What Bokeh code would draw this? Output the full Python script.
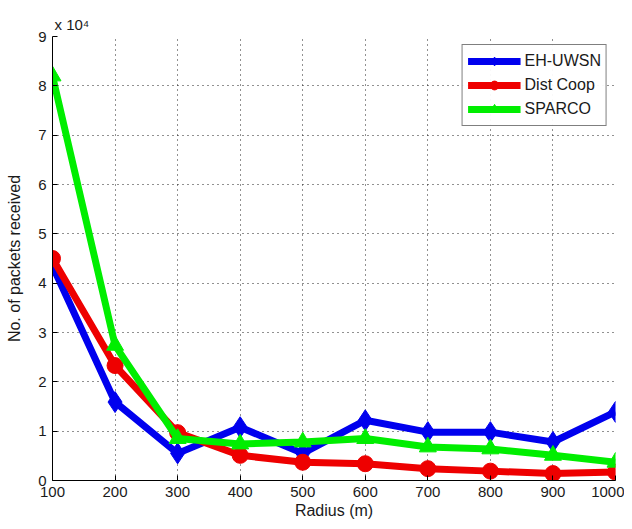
from bokeh.plotting import figure
from bokeh.models import Range1d, Title, Legend, LegendItem, FixedTicker
from bokeh.embed import file_html
from bokeh.resources import INLINE

radius = [100, 200, 300, 400, 500, 600, 700, 800, 900, 1000]
eh_uwsn = [4.35, 1.59, 0.55, 1.08, 0.55, 1.22, 0.98, 0.98, 0.78, 1.39]
dist_coop = [4.50, 2.33, 0.97, 0.51, 0.37, 0.34, 0.24, 0.19, 0.14, 0.17]
sparco = [8.20, 2.74, 0.85, 0.74, 0.78, 0.85, 0.68, 0.64, 0.51, 0.37]
y_ticks = list(range(0, 10))
x_ticks = radius

FONT = "Liberation Sans"
TXT = "#1a1a1a"

p = figure(frame_width=563, frame_height=444, output_backend="svg", toolbar_location=None,
           x_range=Range1d(100, 1000), y_range=Range1d(0, 9),
           min_border_left=52, min_border_right=9, min_border_top=36, min_border_bottom=41)
p.outline_line_color = None
p.background_fill_color = "white"
p.border_fill_color = "white"

for ax in (p.xaxis[0], p.yaxis[0]):
    ax.major_tick_in = 5
    ax.major_tick_out = 0
    ax.minor_tick_line_color = None
    ax.axis_line_color = "black"
    ax.major_tick_line_color = "black"
    ax.major_label_text_font = FONT
    ax.major_label_text_font_size = "15px"
    ax.major_label_text_color = TXT
    ax.axis_label_text_font = FONT
    ax.axis_label_text_font_size = "16px"
    ax.axis_label_text_font_style = "normal"
    ax.axis_label_text_color = TXT

p.xaxis.ticker = FixedTicker(ticks=x_ticks)
p.yaxis.ticker = FixedTicker(ticks=y_ticks)
p.xaxis.axis_label = "Radius (m)"
p.yaxis.axis_label = "No. of packets received"
p.xaxis.major_label_standoff = 6
p.yaxis.major_label_standoff = 6
p.xaxis.axis_label_standoff = 2
p.yaxis.axis_label_standoff = 12

p.grid.grid_line_color = "#222222"
p.grid.grid_line_dash = "1 4"
p.grid.grid_line_width = 1

blue, red, green = "#0000ee", "#ee0000", "#00ee00"
lw = 7

r_b = p.line(radius, eh_uwsn, line_color=blue, line_width=lw)
m_b = p.scatter(radius, eh_uwsn, marker="diamond", size=21, fill_color=blue, line_color=blue)
r_r = p.line(radius, dist_coop, line_color=red, line_width=lw)
m_r = p.scatter(radius, dist_coop, marker="circle", size=16, fill_color=red, line_color=red)
r_g = p.line(radius, sparco, line_color=green, line_width=lw)
m_g = p.scatter(radius, sparco, marker="triangle", size=17, fill_color=green, line_color=green)

legend = Legend(items=[
    LegendItem(label="EH-UWSN", renderers=[r_b, m_b]),
    LegendItem(label="Dist Coop", renderers=[r_r, m_r]),
    LegendItem(label="SPARCO", renderers=[r_g, m_g]),
], location="top_right")
legend.glyph_width = 53
legend.glyph_height = 22
legend.label_text_font = FONT
legend.label_text_font_size = "16px"
legend.label_text_color = TXT
legend.border_line_color = "black"
legend.border_line_width = 1.5
legend.padding = 5
legend.spacing = 2
legend.margin = 8
legend.label_standoff = 4
p.add_layout(legend)

p.add_layout(Title(text="x 10⁴", align="left", offset=2, standoff=8,
                   text_font=FONT, text_font_size="15px", text_font_style="normal",
                   text_color=TXT), "above")

open("out.html", "w").write(file_html(p, INLINE))
